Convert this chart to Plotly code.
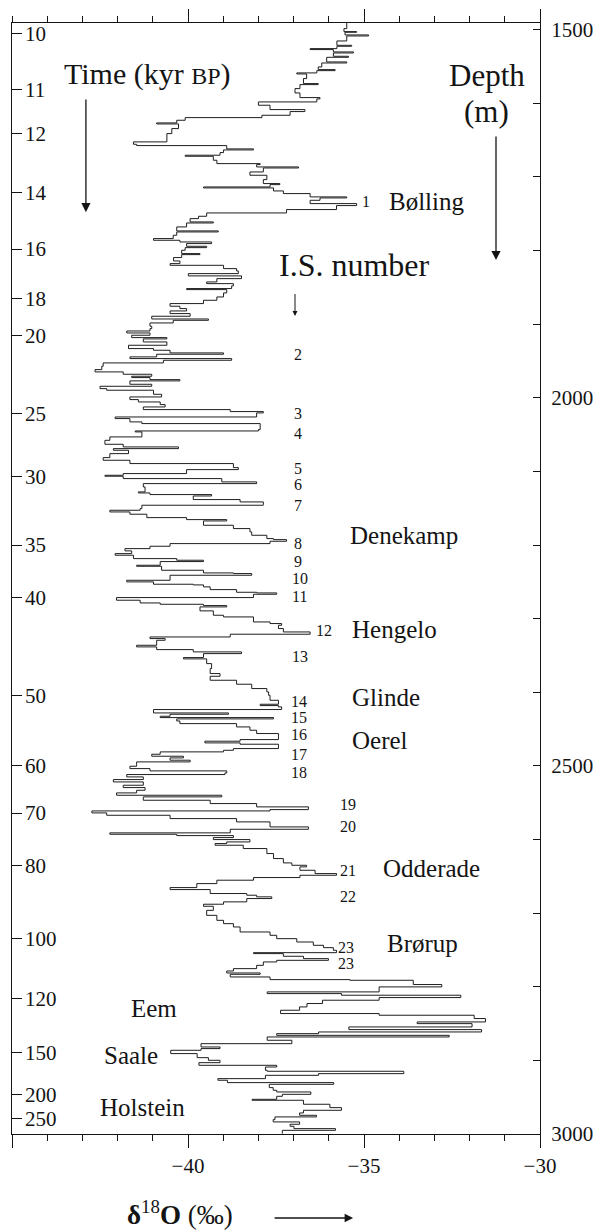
import plotly.graph_objects as go

# ---------------- data: depth (m) and d18O (permil) ----------------
depth_m = [
    1491.0, 1498.6, 1502.7, 1503.6, 1507.2, 1508.6, 1515.4, 1521.3, 1522.6, 1525.8,
    1527.1, 1530.3, 1531.7, 1536.2, 1537.6, 1543.9, 1545.3, 1550.7, 1554.3, 1555.7,
    1558.8, 1560.2, 1566.5, 1573.3, 1574.7, 1580.1, 1586.0, 1592.3, 1594.1, 1598.2,
    1602.7, 1608.6, 1611.3, 1616.3, 1619.5, 1623.1, 1626.7, 1628.1, 1634.4, 1641.2,
    1652.5, 1655.7, 1657.5, 1662.0, 1663.4, 1667.0, 1670.6, 1672.0, 1677.4, 1682.0,
    1683.3, 1686.5, 1687.9, 1693.3, 1697.8, 1703.7, 1709.1, 1710.5, 1713.7, 1715.0,
    1719.1, 1722.7, 1727.2, 1728.6, 1731.8, 1736.3, 1739.0, 1744.4, 1749.0, 1753.5,
    1756.7, 1761.2, 1762.6, 1768.0, 1773.4, 1774.8, 1779.3, 1783.8, 1786.1, 1788.4,
    1790.6, 1794.3, 1796.1, 1799.7, 1804.2, 1805.6, 1809.6, 1814.2, 1817.8, 1820.1,
    1824.6, 1827.8, 1831.4, 1834.5, 1838.2, 1842.7, 1845.0, 1848.1, 1851.7, 1853.1,
    1857.6, 1863.1, 1867.6, 1872.1, 1875.7, 1878.9, 1882.1, 1885.7, 1889.3, 1893.0,
    1894.8, 1898.4, 1902.9, 1906.1, 1909.3, 1912.0, 1915.1, 1918.3, 1920.1, 1924.2,
    1928.7, 1933.2, 1935.5, 1939.1, 1940.9, 1944.5, 1946.8, 1949.1, 1952.7, 1957.2,
    1961.8, 1964.9, 1968.1, 1970.8, 1972.6, 1975.4, 1977.1, 1981.7, 1984.4, 1987.6,
    1989.8, 1995.3, 1998.9, 2002.5, 2005.7, 2009.3, 2012.5, 2016.1, 2018.8, 2020.6,
    2026.1, 2028.3, 2032.8, 2035.1, 2043.3, 2045.1, 2046.4, 2053.2, 2057.8, 2063.2,
    2066.8, 2069.1, 2071.3, 2075.9, 2081.3, 2084.9, 2089.4,
    2094.9, 2097.6, 2103.0, 2105.3, 2106.6, 2109.8, 2114.3, 2116.6, 2121.1, 2127.9,
    2129.3, 2131.5, 2133.4, 2138.3, 2141.5, 2144.7, 2146.0, 2150.5, 2152.8, 2155.1,
    2158.2, 2162.8, 2165.5, 2167.3, 2173.2, 2177.7, 2182.2, 2186.8, 2191.3, 2192.7,
    2194.9, 2198.1, 2201.7, 2204.9, 2208.0, 2211.7, 2213.9, 2218.5, 2220.7, 2222.5,
    2227.5, 2228.9, 2234.3, 2237.9, 2238.8, 2241.1, 2247.9, 2250.1, 2253.3, 2254.2,
    2256.9, 2260.6, 2264.2, 2265.1, 2266.9, 2271.4, 2275.0, 2278.7, 2280.5, 2282.3,
    2284.1, 2289.5, 2295.4, 2297.7, 2304.5, 2306.7, 2309.0, 2313.5, 2318.1, 2321.2,
    2324.9, 2327.1, 2329.4, 2336.2, 2338.4, 2342.1, 2345.2, 2347.5, 2352.9, 2354.7,
    2361.1, 2367.8, 2374.6, 2378.3, 2383.7, 2389.1,
    2395.0, 2399.5, 2404.1, 2410.9, 2416.3, 2418.1, 2419.9, 2423.5, 2425.4, 2428.1,
    2429.9, 2432.6, 2434.4, 2436.2, 2439.0, 2442.6, 2447.1, 2451.6, 2456.1, 2460.7,
    2464.3, 2466.5, 2468.8, 2470.6, 2474.3, 2476.5, 2478.8, 2481.0, 2484.2, 2486.9,
    2489.2, 2492.3, 2494.6, 2497.8, 2500.5, 2503.7, 2506.8, 2509.6, 2511.8, 2515.0,
    2518.6, 2521.8, 2526.3, 2529.5, 2533.1, 2536.7, 2539.9, 2542.1, 2546.7, 2551.2,
    2555.7, 2559.4, 2561.2, 2563.9, 2567.1, 2571.6, 2576.1, 2582.9, 2586.1, 2591.0,
    2592.9, 2594.7, 2597.4, 2600.1, 2603.3, 2605.5, 2607.8, 2612.3, 2619.1, 2625.9,
    2631.8, 2635.0, 2637.2, 2641.8, 2646.3, 2648.6, 2651.7, 2655.3, 2659.9, 2665.3,
    2668.0, 2673.4, 2675.7, 2677.9, 2680.2, 2684.7, 2687.9,
    2690.7, 2696.2, 2703.0, 2709.8, 2714.3, 2718.8, 2725.6, 2730.1, 2734.7, 2739.2,
    2743.7, 2746.9, 2750.5, 2753.7, 2755.0, 2758.6, 2761.8, 2764.1, 2766.3, 2770.9,
    2775.4, 2778.6, 2781.3, 2783.1, 2786.7, 2790.3, 2791.2, 2797.0, 2800.2, 2807.0,
    2809.3, 2811.5, 2814.7, 2818.3, 2822.8, 2827.4, 2831.9, 2836.4, 2838.7, 2843.2,
    2847.8, 2850.1, 2854.6, 2858.2, 2861.4, 2863.7, 2866.0, 2868.2, 2872.7, 2877.3,
    2881.8, 2884.0, 2886.3, 2890.8, 2896.3, 2899.9, 2903.1, 2906.7, 2909.0, 2913.5,
    2914.8, 2918.0, 2920.3, 2924.8, 2927.0, 2930.2, 2932.5, 2937.0, 2940.6, 2942.9,
    2946.1, 2948.8, 2952.9, 2954.2, 2959.6, 2964.2, 2967.8, 2971.4, 2974.6, 2976.8,
    2980.5, 2983.6, 2986.8, 2989.5, 2992.7, 2995.0, 2999.5,
]

d18o_permil = [
    -35.49, -35.57, -35.21, -35.54, -34.87, -35.49, -35.77, -35.35, -35.77, -36.53,
    -35.87, -35.30, -35.87, -35.44, -36.06, -35.49, -36.20, -36.30, -35.82, -36.34,
    -36.91, -36.63, -36.72, -36.30, -36.82, -36.96, -36.82, -36.25, -36.34, -38.00,
    -37.67, -36.68, -37.10, -37.90, -40.08, -40.32, -40.89, -40.27, -40.46, -40.60,
    -41.55, -41.46, -38.90, -38.14, -38.99, -39.09, -40.08, -39.28, -39.18, -37.95,
    -38.05, -36.86, -37.86, -38.24, -37.76, -37.86, -37.39, -37.67, -39.56, -37.57,
    -37.29, -36.53, -35.49, -36.25, -36.53, -35.21, -35.78, -37.20, -39.47, -39.70,
    -39.94, -39.28, -40.04, -40.32, -39.14, -40.32, -40.42, -40.98, -40.23, -39.33,
    -40.04, -39.47, -40.08, -40.18, -39.66, -40.18, -40.41, -40.23, -40.51, -38.99,
    -38.62, -38.57, -39.99, -38.48, -39.18, -39.47, -38.71, -38.76, -40.04, -38.90,
    -38.99, -39.18, -39.56, -40.51, -40.23, -40.04, -40.51, -39.94, -41.03, -39.42,
    -40.42, -41.08, -41.03, -41.08, -41.74, -41.08, -41.60, -40.60, -41.27, -40.60,
    -41.69, -40.98, -40.51, -38.99, -40.89, -41.65, -38.76, -40.70, -42.41, -42.45,
    -42.64, -41.84, -41.03, -41.60, -41.08, -40.23, -41.65, -41.03, -42.50, -42.31,
    -40.98, -40.75, -41.65, -41.41, -40.79, -40.65, -41.27, -38.80, -37.86, -38.05,
    -42.07, -41.65, -41.31, -37.95, -38.00, -41.50, -41.31, -42.22, -42.36, -41.84,
    -40.27, -42.12, -41.69, -42.22, -42.41, -41.65, -38.71,
    -38.57, -40.04, -41.84, -42.36, -41.84, -39.04, -38.05, -41.27, -41.22, -41.41,
    -41.08, -39.33, -39.85, -38.52, -37.86, -37.86, -41.31, -41.36, -42.22, -41.65,
    -41.17, -40.04, -38.90, -39.56, -38.71, -38.24, -38.19, -37.76, -37.57, -37.20,
    -37.67, -40.51, -41.08, -41.79, -41.60, -42.07, -41.55, -40.32, -39.56, -40.79,
    -41.46, -40.75, -39.56, -38.71, -38.19, -40.51, -41.74, -40.98, -39.85, -39.56,
    -39.37, -38.62, -38.05, -37.48, -38.14, -42.03, -41.36, -40.79, -39.56, -38.90,
    -39.66, -39.28, -38.99, -38.14, -37.67, -37.34, -37.43, -37.29, -36.53, -38.80,
    -41.08, -40.65, -40.89, -41.46, -40.89, -39.85, -38.48, -39.56, -40.13, -39.47,
    -39.33, -39.37, -39.09, -39.37, -38.62, -38.19,
    -37.76, -37.71, -37.67, -37.43, -37.95, -37.43, -37.34, -40.98, -40.98, -38.85,
    -40.51, -40.79, -37.57, -40.32, -40.23, -38.62, -38.24, -38.05, -37.43, -37.43,
    -38.52, -39.52, -38.52, -37.43, -37.43, -38.71, -38.99, -40.79, -41.03, -40.13,
    -40.51, -39.94, -41.46, -41.46, -41.65, -41.08, -38.90, -38.95, -41.74, -41.27,
    -42.12, -41.27, -41.84, -41.22, -41.46, -42.03, -39.04, -41.27, -39.37, -38.05,
    -36.58, -37.67, -42.73, -42.31, -40.51, -38.62, -37.67, -36.58, -38.80, -42.22,
    -40.32, -38.71, -39.28, -38.24, -38.90, -39.23, -38.43, -37.76, -37.57, -37.29,
    -37.05, -36.63, -36.82, -36.39, -35.78, -36.82, -38.14, -39.18, -39.75, -40.51,
    -39.37, -38.33, -38.05, -37.62, -38.33, -38.99, -39.56,
    -39.28, -39.47, -39.18, -38.99, -38.71, -38.52, -37.67, -37.48, -36.91, -36.44,
    -36.15, -35.87, -35.78, -38.14, -37.29, -36.72, -36.01, -37.48, -37.86, -38.05,
    -38.71, -38.90, -37.95, -38.80, -37.67, -35.40, -33.60, -32.79, -34.57, -37.75,
    -35.64, -32.25, -34.57, -36.18, -36.62, -36.83, -37.37, -34.57, -31.87, -31.55,
    -33.49, -31.93, -35.43, -31.66, -36.29, -37.48, -32.58, -37.75, -37.05, -39.63,
    -39.09, -39.63, -40.49, -39.74, -39.42, -39.09, -39.69, -37.48, -37.80, -37.75,
    -33.87, -36.29, -37.80, -39.15, -38.88, -35.86, -37.69, -37.58, -37.48, -36.51,
    -37.32, -37.48, -38.18, -36.72, -35.97, -35.64, -36.72, -36.83, -36.35, -37.53,
    -37.58, -36.83, -37.10, -36.99, -35.81, -37.32, -37.32,
]

# time scale (kyr BP) shown on the left axis, placed at the corresponding depth
time_labels = ["10", "11", "12", "14", "16", "18", "20", "25", "30", "35",
               "40", "50", "60", "70", "80", "100", "120", "150", "200", "250"]
time_depths = [1505, 1581, 1641, 1721, 1798, 1865, 1916, 2021, 2107, 2200,
               2271, 2404, 2500, 2564, 2635, 2734, 2816, 2889, 2946, 2979]

depth_ticks = [1500, 2000, 2500, 3000]
x_ticks = [-45, -40, -35, -30]
x_ticklabels = ["", "\u221240", "\u221235", "\u221230"]

# interstadial numbers (label, depth, d18O position)
is_labels = ["2", "3", "4", "5", "6", "7", "8", "9", "10", "11", "12", "13", "14",
             "15", "16", "17", "18", "19", "20", "21", "22", "23", "23"]
is_depths = [1941, 2021, 2048, 2096, 2118, 2147, 2198, 2222, 2245, 2270, 2316, 2352, 2412,
             2434, 2457, 2485, 2509, 2552, 2583, 2642, 2677, 2747, 2768]
is_x = [-36.88, -36.88, -36.88, -36.88, -36.88, -36.88, -36.88, -36.88, -36.82, -36.82,
        -36.14, -36.82, -36.85, -36.85, -36.85, -36.85, -36.85, -35.45, -35.45, -35.45,
        -35.45, -35.51, -35.51]

# named interstadials / interglacials (label, depth, left x)
stage_names = ["Denekamp", "Hengelo", "Glinde", "Oerel", "Odderade", "Brørup",
               "Eem", "Saale", "Holstein"]
stage_depths = [2187, 2315, 2407, 2465, 2639, 2741, 2829, 2893, 2964]
stage_x = [-35.45, -35.40, -35.40, -35.40, -34.52, -34.40, -41.68, -42.44, -42.56]

FONT = "Liberation Serif"
INK = "#141414"

fig = go.Figure()
fig.add_trace(go.Scatter(x=d18o_permil, y=depth_m, mode="lines",
                         line=dict(color="#1e1e1e", width=1, shape="vh"),
                         hoverinfo="skip", showlegend=False))
# same series on the mirrored axes (invisible) so the top/right axes render
fig.add_trace(go.Scatter(x=d18o_permil, y=depth_m, mode="lines", xaxis="x2", yaxis="y2",
                         line=dict(color="rgba(0,0,0,0)", width=0),
                         hoverinfo="skip", showlegend=False))

xcommon = dict(range=[-45, -30], showgrid=False, zeroline=False, showline=True,
               automargin=False,
               linecolor=INK, linewidth=1.3, ticks="outside", ticklen=13, tickwidth=1.3,
               tickcolor=INK, tickmode="array", tickvals=x_ticks, ticktext=x_ticklabels,
               minor=dict(tickmode="linear", tick0=-45, dtick=1, ticks="outside",
                          ticklen=6, tickwidth=1.2, tickcolor=INK, showgrid=False))

fig.update_layout(
    width=593, height=1232,
    margin=dict(l=12, r=53, t=23, b=98, autoexpand=False),
    plot_bgcolor="white", paper_bgcolor="white",
    font=dict(family=FONT, color=INK),
    showlegend=False,
    xaxis=dict(**xcommon, side="bottom", tickfont=dict(size=21, family=FONT, color=INK)),
    xaxis2=dict(**xcommon, side="top", overlaying="x", showticklabels=False),
    yaxis=dict(range=[3000, 1491], showgrid=False, zeroline=False, showline=True,
               automargin=False,
               linecolor=INK, linewidth=1.3, ticks="inside", ticklen=10, tickwidth=1.3,
               tickcolor=INK, tickmode="array", tickvals=time_depths, ticktext=time_labels,
               ticklabelposition="inside", ticklabeloverflow="allow",
               ticklabelstandoff=4,
               tickfont=dict(size=21, family=FONT, color=INK)),
    yaxis2=dict(range=[3000, 1491], overlaying="y", side="right", showgrid=False,
                automargin=False,
                zeroline=False, showline=True, linecolor=INK, linewidth=1.3,
                ticks="inside", ticklen=7, tickwidth=1.2, tickcolor=INK,
                tickmode="array", tickvals=depth_ticks,
                ticktext=[str(v) for v in depth_ticks], ticklabelstandoff=6,
                tickfont=dict(size=21, family=FONT, color=INK),
                minor=dict(tickmode="linear", tick0=1500, dtick=100, ticks="inside",
                           ticklen=7, tickwidth=1.2, tickcolor=INK, showgrid=False)),
)

ann = []


def text(t, x, y, size, xanchor="center", xref="x", yref="y"):
    ann.append(dict(text=t, x=x, y=y, xref=xref, yref=yref, showarrow=False,
                    xanchor=xanchor, yanchor="middle",
                    font=dict(family=FONT, size=size, color=INK)))


def arrow(x, y_tail, y_head, width=1.3, size=1.4):
    ann.append(dict(text="", x=x, y=y_head, ax=x, ay=y_tail, xref="x", yref="y",
                    axref="x", ayref="y", showarrow=True, arrowhead=2,
                    arrowsize=size, arrowwidth=width, arrowcolor=INK))


text("Time (kyr <span style='font-size:24px'>BP</span>)", -41.16, 1560, 30)
arrow(-42.90, 1593, 1748)
text("Depth", -31.51, 1562, 31)
text("(m)", -31.51, 1611, 31)
arrow(-31.25, 1643, 1813)
text("1", -34.94, 1734, 16)
text("Bølling", -34.35, 1733, 25, xanchor="left")
text("I.S. number", -35.26, 1820, 32)
arrow(-36.96, 1857, 1889, width=1.0, size=1.0)

for lab, d, xv in zip(is_labels, is_depths, is_x):
    text(lab, xv, d, 16)
for lab, d, xv in zip(stage_names, stage_depths, stage_x):
    text(lab, xv, d, 25, xanchor="left")

# x-axis title with arrow
ann.append(dict(text="<b>δ</b><sup>18</sup><b>O</b> (‰)", x=0.214, y=-0.071,
                xref="paper", yref="paper", showarrow=False, xanchor="left",
                yanchor="middle", font=dict(family=FONT, size=27, color=INK)))
ann.append(dict(text="", x=0.646, y=-0.0756, xref="paper", yref="paper",
                ax=-80, ay=0, showarrow=True, arrowhead=2, arrowsize=1.3,
                arrowwidth=1.3, arrowcolor=INK))

fig.update_layout(annotations=ann)
fig.write_html("out.html", config={"displayModeBar": False},
               post_script="document.body.style.margin='0px';")
